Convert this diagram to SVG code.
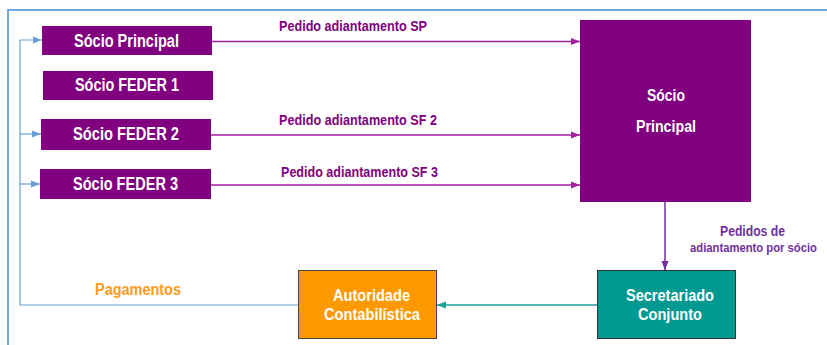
<svg xmlns="http://www.w3.org/2000/svg" width="827" height="345" viewBox="0 0 827 345">
<defs>
<style>
.t{font-family:"Liberation Sans",Arial,sans-serif;font-weight:bold}
.w{fill:#ffffff}
.pb{fill:#800080}
.lbl{fill:#800080;font-size:15px}
.lbl2{fill:#7030a0;font-size:14px}
.pa{stroke:#a020a0;stroke-width:1.5;fill:none}
.bl{stroke:#6a9fd6;stroke-width:1.2;fill:none}
</style>
<marker id="mp" viewBox="0 0 10 10" refX="10" refY="5" markerWidth="9" markerHeight="9" markerUnits="userSpaceOnUse" orient="auto"><path d="M0,1 L10,5 L0,9 z" fill="#a020a0"/></marker>
<marker id="mv" viewBox="0 0 10 10" refX="10" refY="5" markerWidth="9" markerHeight="9" markerUnits="userSpaceOnUse" orient="auto"><path d="M0,1 L10,5 L0,9 z" fill="#7030a0"/></marker>
<marker id="mb" viewBox="0 0 10 10" refX="10" refY="5" markerWidth="9" markerHeight="9" markerUnits="userSpaceOnUse" orient="auto"><path d="M0,1 L10,5 L0,9 z" fill="#6a9fd6"/></marker>
<marker id="mt" viewBox="0 0 10 10" refX="10" refY="5" markerWidth="9" markerHeight="9" markerUnits="userSpaceOnUse" orient="auto"><path d="M0,1 L10,5 L0,9 z" fill="#17a096"/></marker>
</defs>
<rect width="827" height="345" fill="#ffffff"/>
<path d="M8,345 V10 H827" stroke="#6fa8dc" stroke-width="2" fill="none"/>

<g id="connectors">
<path class="bl" d="M298,305 H20 V40 H42" marker-end="url(#mb)"/>
<path class="bl" d="M20,134 H41" marker-end="url(#mb)"/>
<path class="bl" d="M20,184 H40" marker-end="url(#mb)"/>
<path class="pa" d="M212,41.5 H580" marker-end="url(#mp)"/>
<path class="pa" d="M211,135 H580" marker-end="url(#mp)"/>
<path class="pa" d="M211,185 H580" marker-end="url(#mp)"/>
<path d="M665,202 V270" stroke="#7030a0" stroke-width="1.5" fill="none" marker-end="url(#mv)"/>
<path d="M597,305 H437" stroke="#17a096" stroke-width="1.5" fill="none" marker-end="url(#mt)"/>
<text class="t lbl" x="279" y="31" textLength="148" lengthAdjust="spacingAndGlyphs">Pedido adiantamento SP</text>
<text class="t lbl" x="279" y="125" textLength="158" lengthAdjust="spacingAndGlyphs">Pedido adiantamento SF 2</text>
<text class="t lbl" x="281" y="177" textLength="157" lengthAdjust="spacingAndGlyphs">Pedido adiantamento SF 3</text>
<text class="t lbl2" x="720" y="236" textLength="65" lengthAdjust="spacingAndGlyphs">Pedidos de</text>
<text class="t lbl2" x="690" y="252" font-size="12" style="font-size:12.2px" textLength="127" lengthAdjust="spacingAndGlyphs">adiantamento por sócio</text>
<text class="t" x="95" y="295" font-size="16" fill="#ff9a1a" textLength="86" lengthAdjust="spacingAndGlyphs">Pagamentos</text>
</g>

<g id="socio-principal">
<rect class="pb" x="42" y="26" width="170" height="29"/>
<text class="t w" x="74" y="47" font-size="18" textLength="105" lengthAdjust="spacingAndGlyphs">Sócio Principal</text>
</g>
<g id="socio-feder-1">
<rect class="pb" x="43" y="71" width="170" height="29"/>
<text class="t w" x="75" y="91" font-size="18" textLength="104" lengthAdjust="spacingAndGlyphs">Sócio FEDER 1</text>
</g>
<g id="socio-feder-2">
<rect class="pb" x="41" y="119" width="170" height="31"/>
<text class="t w" x="73" y="140" font-size="18" textLength="106" lengthAdjust="spacingAndGlyphs">Sócio FEDER 2</text>
</g>
<g id="socio-feder-3">
<rect class="pb" x="40" y="169" width="171" height="30"/>
<text class="t w" x="73" y="190" font-size="18" textLength="105" lengthAdjust="spacingAndGlyphs">Sócio FEDER 3</text>
</g>
<g id="socio-principal-big">
<rect class="pb" x="580" y="20" width="171" height="182"/>
<text class="t w" x="647" y="101" font-size="17" textLength="38" lengthAdjust="spacingAndGlyphs">Sócio</text>
<text class="t w" x="636" y="132" font-size="17" textLength="60" lengthAdjust="spacingAndGlyphs">Principal</text>
</g>
<g id="secretariado-conjunto">
<rect x="597.5" y="270.5" width="138" height="68" fill="#009991" stroke="#333333" stroke-width="1"/>
<text class="t w" x="626" y="301" font-size="17" textLength="88" lengthAdjust="spacingAndGlyphs">Secretariado</text>
<text class="t w" x="638" y="320" font-size="17" textLength="64" lengthAdjust="spacingAndGlyphs">Conjunto</text>
</g>
<g id="autoridade-contabilistica">
<rect x="298.5" y="270.5" width="138" height="68" fill="#ff9900" stroke="#444444" stroke-width="1"/>
<text class="t w" x="333" y="301" font-size="17" textLength="77" lengthAdjust="spacingAndGlyphs">Autoridade</text>
<text class="t w" x="324" y="320" font-size="17" textLength="96" lengthAdjust="spacingAndGlyphs">Contabilística</text>
</g>
</svg>
